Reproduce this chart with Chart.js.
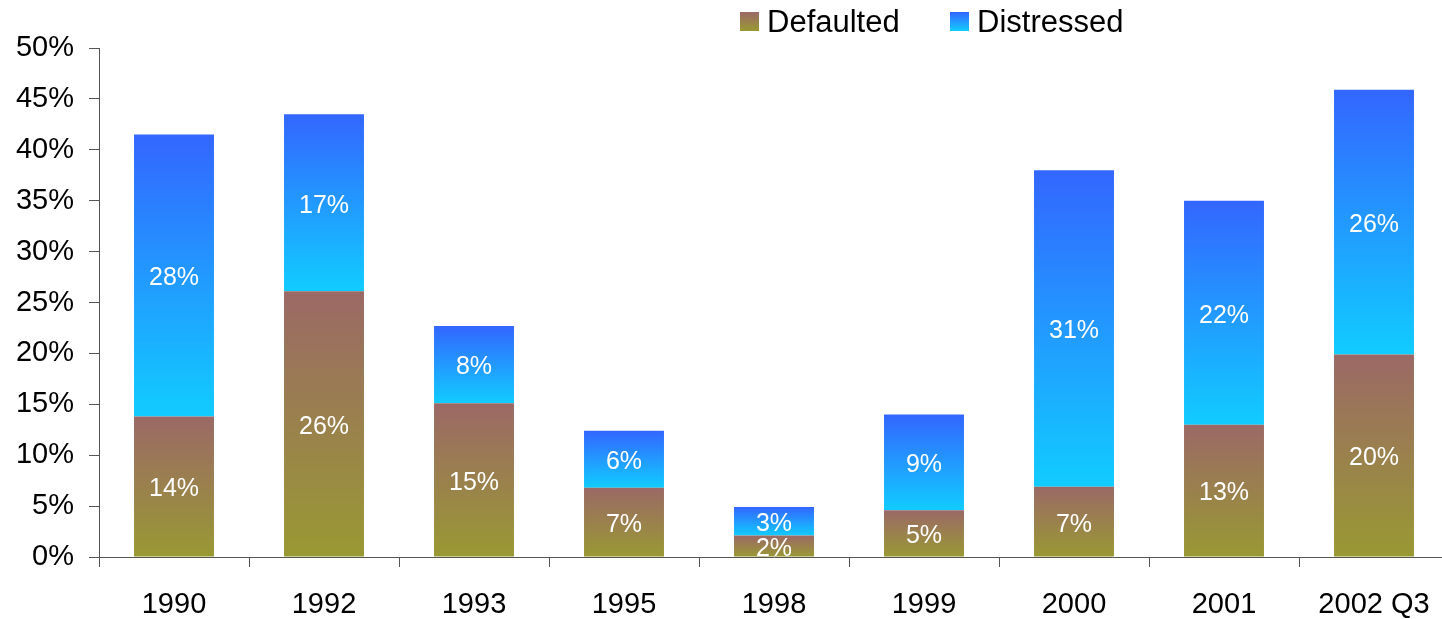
<!DOCTYPE html>
<html>
<head>
<meta charset="utf-8">
<script src="https://cdn.jsdelivr.net/npm/chart.js@4"></script>
<style>
    html, body { margin: 0; padding: 0; background: #fff; overflow: hidden; }
    #wrap { position: relative; width: 1452px; height: 619px; }
    .legend-item { position: absolute; top: 4px; font: 31px "Liberation Sans", Arial, sans-serif; color: #000; line-height: 36px; }
    .swatch { position: absolute; left: 0; top: 8px; width: 19px; height: 19px; }
    .legend-item span.txt { margin-left: 27px; }
</style>
</head>
<body>
<div id="wrap">
    <canvas id="chart" width="1452" height="619"></canvas>
    <div class="legend-item" style="left:740px"><div class="swatch" style="background:linear-gradient(#9b6966,#999933)"></div><span class="txt">Defaulted</span></div>
    <div class="legend-item" style="left:950px"><div class="swatch" style="background:linear-gradient(#3366ff,#11ccff)"></div><span class="txt">Distressed</span></div>
</div>
<script>
// Dati
const categories = ['1990', '1992', '1993', '1995', '1998', '1999', '2000', '2001', '2002 Q3'];
const defaulted = [13.8, 26.1, 15.1, 6.8, 2.1, 4.6, 6.9, 13.0, 19.9];
const distressed = [27.7, 17.4, 7.6, 5.6, 2.8, 9.4, 31.1, 22.0, 26.0];
const yTicks = [0, 5, 10, 15, 20, 25, 30, 35, 40, 45, 50];

const FONT = '"Liberation Sans", Arial, sans-serif';

// Gradiente per ogni segmento della barra, calcolato dalla scala y
function segmentGradient(topColor, bottomColor) {
    return function(context) {
        const chart = context.chart;
        const yScale = chart.scales.y;
        if (!yScale || context.dataIndex === undefined) return bottomColor;
        const i = context.dataIndex;
        let lo = 0, hi = 0;
        if (context.datasetIndex === 0) {
            lo = 0; hi = defaulted[i];
        } else {
            lo = defaulted[i]; hi = defaulted[i] + distressed[i];
        }
        const yTop = yScale.getPixelForValue(hi);
        const yBot = yScale.getPixelForValue(lo);
        if (!isFinite(yTop) || !isFinite(yBot) || yTop === yBot) return bottomColor;
        const g = chart.ctx.createLinearGradient(0, yTop, 0, yBot);
        g.addColorStop(0, topColor);
        g.addColorStop(1, bottomColor);
        return g;
    };
}

// Etichette bianche al centro dei segmenti
const valueLabels = {
    id: 'valueLabels',
    afterDatasetsDraw(chart) {
        const ctx = chart.ctx;
        ctx.save();
        ctx.fillStyle = '#ffffff';
        ctx.font = '25px ' + FONT;
        ctx.textAlign = 'center';
        ctx.textBaseline = 'middle';
        chart.data.datasets.forEach((ds, di) => {
            const meta = chart.getDatasetMeta(di);
            meta.data.forEach((bar, i) => {
                const p = bar.getProps(['x', 'y', 'base'], true);
                ctx.fillText(Math.round(ds.data[i]) + '%', p.x, (p.y + p.base) / 2 + 3);
            });
        });
        ctx.restore();
    }
};

new Chart(document.getElementById('chart').getContext('2d'), {
    type: 'bar',
    data: {
        labels: categories,
        datasets: [{
            label: 'Defaulted',
            data: defaulted,
            backgroundColor: segmentGradient('#9b6966', '#999933'),
            borderWidth: 0,
            categoryPercentage: 1,
            barPercentage: 0.533
        }, {
            label: 'Distressed',
            data: distressed,
            backgroundColor: segmentGradient('#3366ff', '#11ccff'),
            borderWidth: 0,
            categoryPercentage: 1,
            barPercentage: 0.533
        }]
    },
    options: {
        responsive: false,
        animation: false,
        devicePixelRatio: 1,
        layout: { padding: { top: 48, left: 0, right: 3, bottom: 0 } },
        plugins: {
            legend: { display: false },
            tooltip: { enabled: false }
        },
        scales: {
            x: {
                stacked: true,
                offset: true,
                afterFit: s => { s.height = 62; },
                border: { color: '#555', width: 1 },
                grid: { offset: true, drawOnChartArea: false, drawTicks: true, tickLength: 10, color: '#555' },
                ticks: { color: '#000', font: { family: FONT, size: 29 }, padding: 21, maxRotation: 0 }
            },
            y: {
                stacked: true,
                min: 0,
                max: 50,
                afterFit: s => { s.width = 99; },
                afterBuildTicks: s => { s.ticks = yTicks.map(v => ({ value: v })); },
                border: { color: '#555', width: 1 },
                grid: { drawOnChartArea: false, drawTicks: true, tickLength: 10, color: '#555' },
                ticks: { color: '#000', font: { family: FONT, size: 29 }, padding: 15, callback: v => v + '%' }
            }
        }
    },
    plugins: [valueLabels]
});
</script>
</body>
</html>
